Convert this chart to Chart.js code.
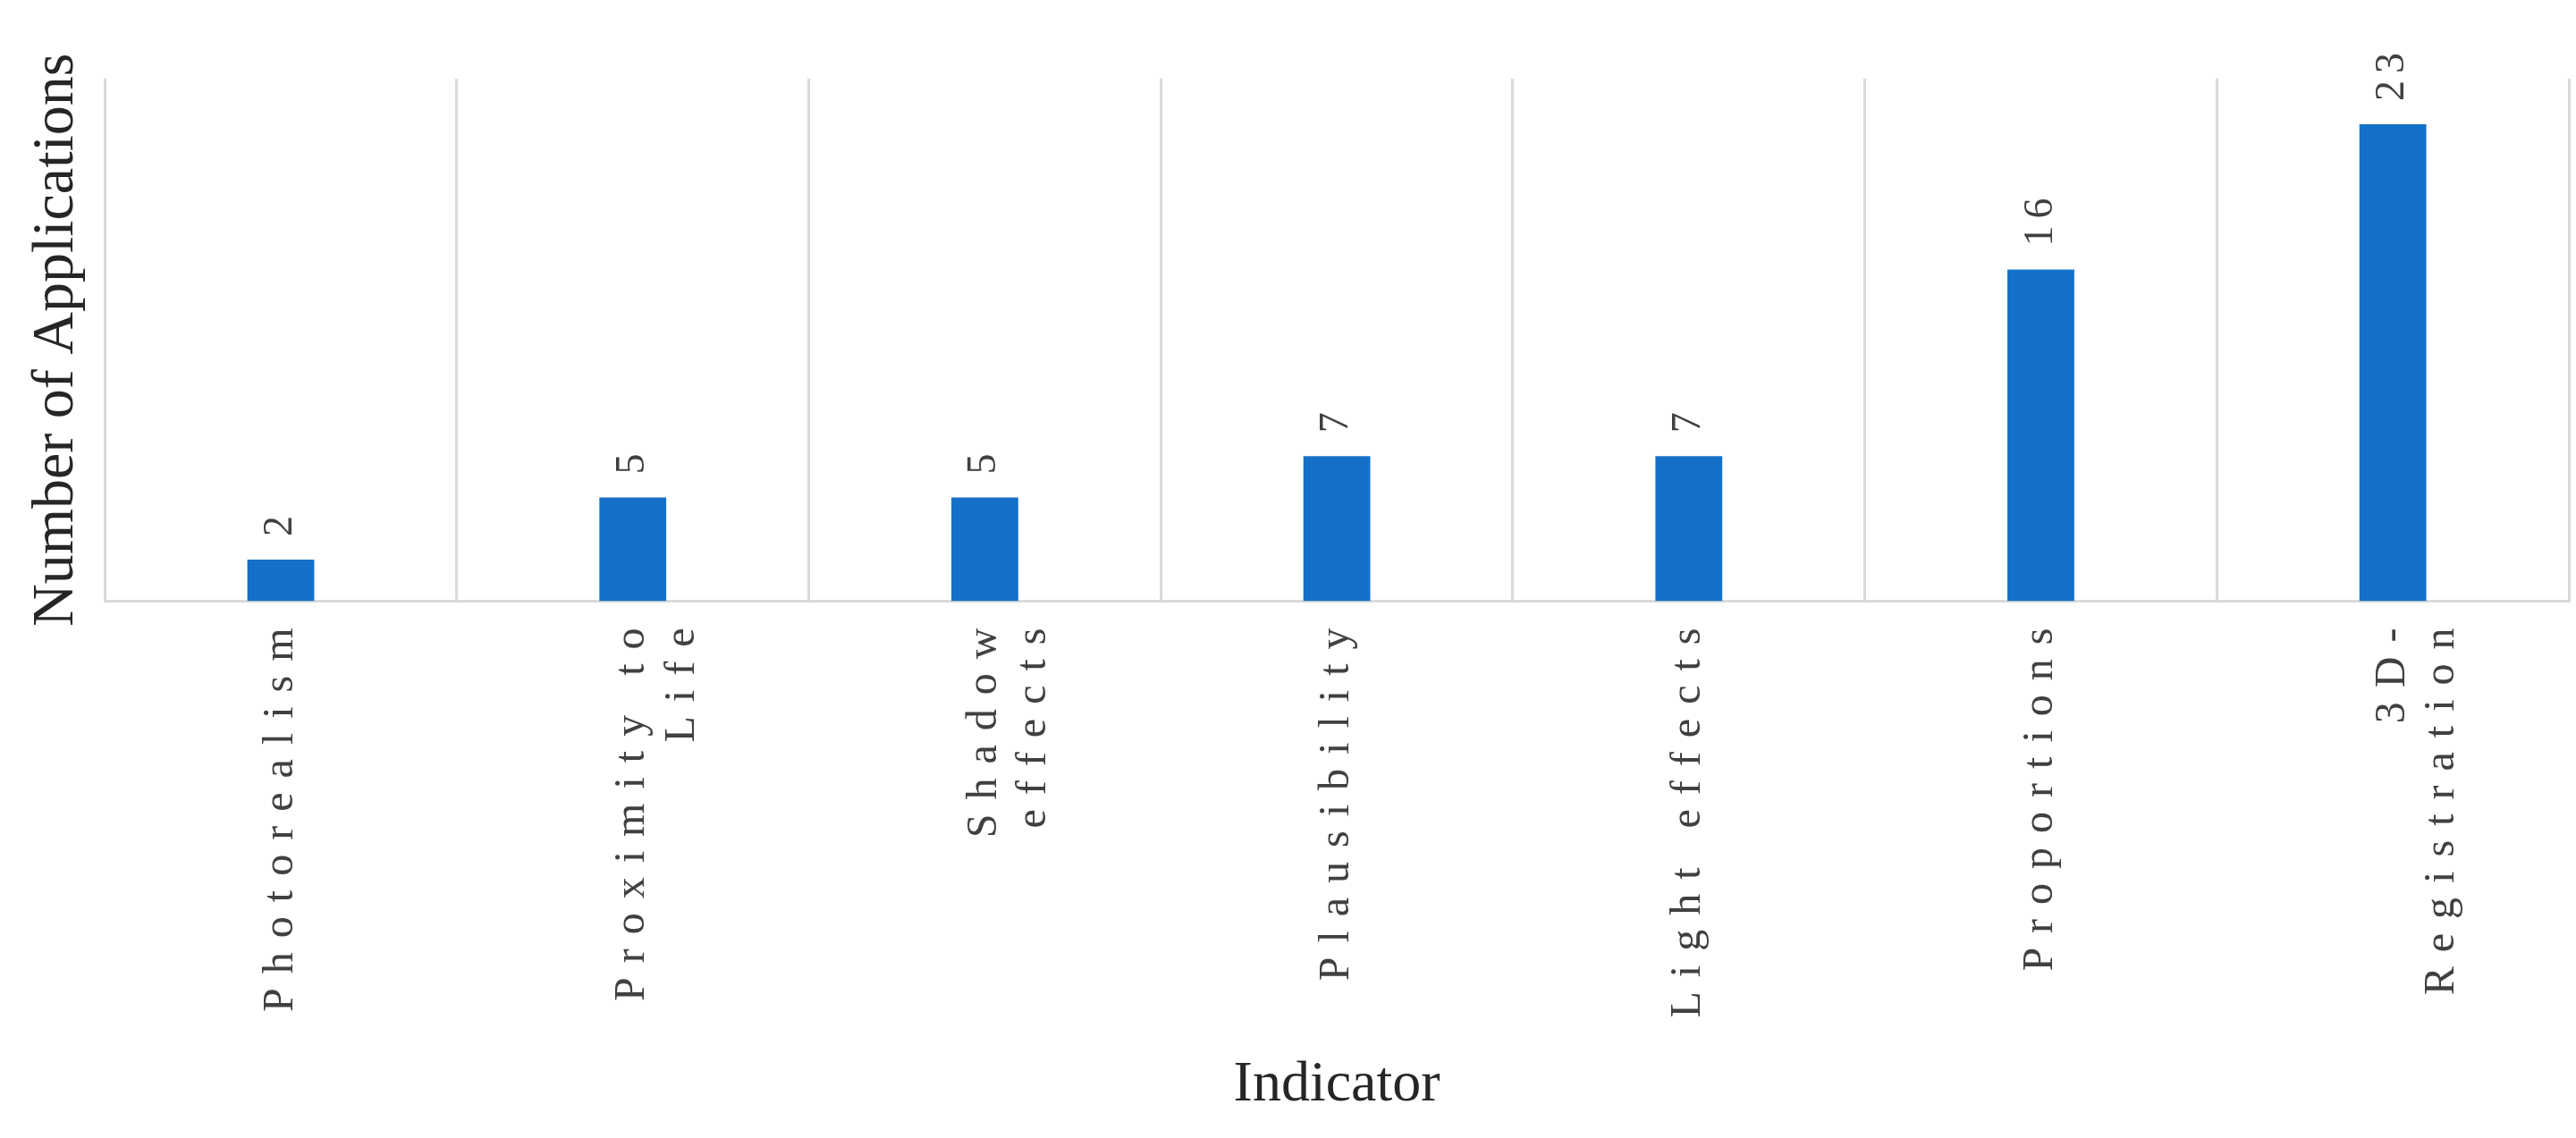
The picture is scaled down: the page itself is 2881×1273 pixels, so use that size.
<!DOCTYPE html>
<html>
<head>
<meta charset="utf-8">
<script src="https://cdn.jsdelivr.net/npm/chart.js@4.4.1/dist/chart.umd.min.js"></script>
<style>
  html,body{margin:0;padding:0;background:#fff;}
  #wrap{width:2881px;height:1273px;}
</style>
</head>
<body>
<div id="wrap"><canvas id="c" width="2881" height="1273"></canvas></div>
<script>
// datos del grafico
const categorias = [['Photorealism'], ['Proximity to', 'Life'], ['Shadow', 'effects'], ['Plausibility'], ['Light effects'], ['Proportions'], ['3D-', 'Registration']];
const aplicaciones = [2, 5, 5, 7, 7, 16, 23];
const yMax = 25.2;

const serif = '"Liberation Serif", "DejaVu Serif", serif';

// espaciado entre letras como en el original
const espaciar = s => s.split('').join(' \u200A');
const etiquetasX = categorias.map(l => l.map(espaciar));

// etiquetas de valor giradas encima de cada barra
const etiquetas = {
  id: 'etiquetas',
  afterDatasetsDraw(chart){
    const ctx = chart.ctx;
    const meta = chart.getDatasetMeta(0);
    ctx.save();
    ctx.font = '46px ' + serif;
    ctx.letterSpacing = '8px';
    ctx.fillStyle = '#404040';
    ctx.textAlign = 'left';
    ctx.textBaseline = 'middle';
    meta.data.forEach((bar, i) => {
      ctx.save();
      ctx.translate(bar.x, bar.y - 26);
      ctx.rotate(-Math.PI/2);
      ctx.fillText(String(aplicaciones[i]), 0, 0);
      ctx.restore();
    });
    ctx.restore();
  }
};

new Chart(document.getElementById('c').getContext('2d'), {
  type: 'bar',
  data: {
    labels: etiquetasX,
    datasets: [{ data: aplicaciones, backgroundColor: '#1570c8', barPercentage: 0.19, categoryPercentage: 1 }]
  },
  options: {
    responsive: false,
    animation: false,
    layout: { padding: { left: 18, right: 8, top: 88, bottom: 16 } },
    plugins: { legend: { display: false }, tooltip: { enabled: false } },
    scales: {
      x: {
        grid: { display: true, offset: true, color: '#d9d9d9', lineWidth: 3, drawTicks: false },
        border: { display: true, color: '#d9d9d9', width: 3 },
        ticks: { color: '#404040', font: { family: serif, size: 48, lineHeight: 1.15 }, minRotation: 90, maxRotation: 90, padding: 30, autoSkip: false },
        title: { display: true, text: 'Indicator', color: '#262626', font: { family: serif, size: 64 }, padding: { top: 20 } }
      },
      y: {
        min: 0, max: yMax,
        grid: { display: false },
        border: { display: false },
        ticks: { display: false },
        title: { display: true, text: 'Number of Applications', color: '#262626', font: { family: serif, size: 66 }, padding: 6 }
      }
    }
  },
  plugins: [etiquetas]
});
</script>
</body>
</html>
